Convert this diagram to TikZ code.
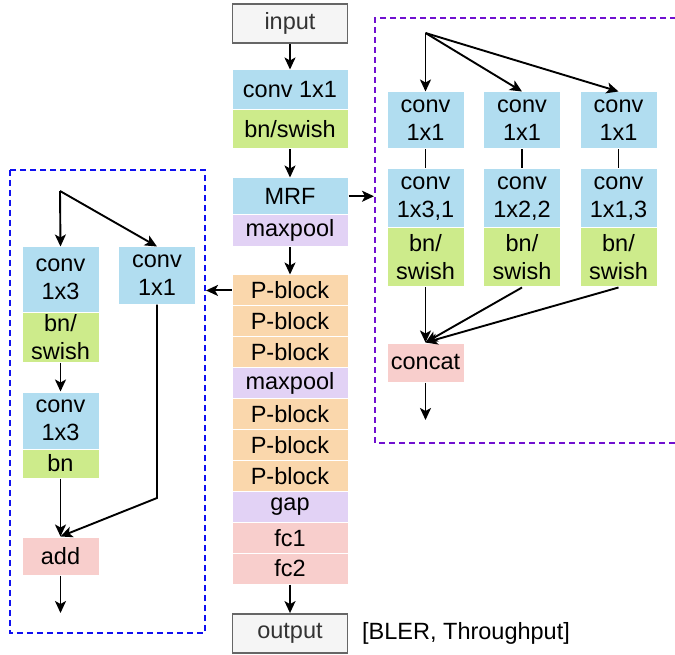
\documentclass[tikz,border=0pt]{standalone}
\usepackage{fontspec}
\setmainfont{Liberation Sans}
\usetikzlibrary{arrows.meta}
\definecolor{cblue}{HTML}{B1DDF0}
\definecolor{cgreen}{HTML}{CDEB8B}
\definecolor{corange}{HTML}{FAD7AC}
\definecolor{cpurple}{HTML}{E2D2F5}
\definecolor{cpink}{HTML}{F8CECC}
\definecolor{cgrayf}{HTML}{F5F5F5}
\definecolor{cgrayd}{HTML}{666666}
\definecolor{dblue}{HTML}{1010F0}
\definecolor{dpurple}{HTML}{7010D0}
\newcommand\myfs{\fontsize{23.5}{28}\selectfont}
\begin{document}
\begin{tikzpicture}[x=1pt,y=-1pt,
  blk/.style={rectangle, draw=white, line width=1pt, inner sep=0pt, align=center, font=\myfs, text=black},
  mainw/.style={minimum width=116pt},
  colw/.style={minimum width=77pt},
  io/.style={rectangle, draw=cgrayd, fill=cgrayf, line width=1.8pt, inner sep=0pt, minimum width=115pt, minimum height=39pt, font=\myfs, text={black!80}},
  arr/.style={line width=1.9pt, -{Stealth[length=12pt,width=11pt,inset=3pt]}},
  ln/.style={line width=1.9pt},
  dbox/.style={line width=1.8pt, dash pattern=on 6pt off 4pt}
]
\useasboundingbox (0,0) rectangle (675,655);

% main column
\node[io] (inp) at (290,23.5) {input};
\node[blk,mainw,fill=cblue,minimum height=40pt] (c1) at (290,90) {conv 1x1};
\node[blk,mainw,fill=cgreen,minimum height=39pt] (bs) at (290,129.5) {bn/swish};
\node[blk,mainw,fill=cblue,minimum height=36.5pt] (mrf) at (290,196.25) {MRF};
\node[blk,mainw,fill=cpurple,minimum height=32.5pt] (mp1) at (290,230.75) {maxpool};
\node[blk,mainw,fill=corange,minimum height=30.9pt] (p1) at (290,290.45) {P-block};
\node[blk,mainw,fill=corange,minimum height=30.9pt] (p2) at (290,321.35) {P-block};
\node[blk,mainw,fill=corange,minimum height=30.9pt] (p3) at (290,352.25) {P-block};
\node[blk,mainw,fill=cpurple,minimum height=30.9pt] (mp2) at (290,383.15) {maxpool};
\node[blk,mainw,fill=corange,minimum height=30.9pt] (p4) at (290,414.05) {P-block};
\node[blk,mainw,fill=corange,minimum height=30.9pt] (p5) at (290,444.95) {P-block};
\node[blk,mainw,fill=corange,minimum height=30.9pt] (p6) at (290,475.85) {P-block};
\node[blk,mainw,fill=cpurple,minimum height=30.9pt] (gap) at (290,506.75) {gap};
\node[blk,mainw,fill=cpink,minimum height=30.9pt] (fc1) at (290,537.65) {fc1};
\node[blk,mainw,fill=cpink,minimum height=30.9pt] (fc2) at (290,568.55) {fc2};
\node[io] (out) at (290,633.5) {output};
\node[anchor=west, inner sep=0pt, font=\myfs] (lab) at (362,633) {[BLER, Throughput]};

\draw[arr] (inp) -- (c1);
\draw[arr] (bs) -- (mrf);
\draw[arr] (mp1) -- (p1);
\draw[arr] (fc2) -- (out);

% left dashed box (P-block detail)
\draw[dbox, draw=dblue] (10,170) rectangle (205,633);
\coordinate (pin) at (206,290.45);
\draw[arr] (p1.west) -- (pin);
\coordinate (lb) at (60,191);
\node[blk,colw,fill=cblue,minimum height=65pt] (la) at (60.5,279.5) {conv\\1x3};
\node[blk,colw,fill=cgreen,minimum height=50pt] (lbs) at (60.5,337) {bn/\\swish};
\node[blk,colw,fill=cblue,minimum height=57pt] (lc) at (60.5,420.5) {conv\\1x3};
\node[blk,colw,fill=cgreen,minimum height=29pt] (lbn) at (60.5,463.5) {bn};
\node[blk,colw,fill=cpink,minimum height=38pt] (add) at (60.5,556) {add};
\node[blk,colw,fill=cblue,minimum height=57pt] (lr) at (157,275.5) {conv\\1x1};
\coordinate (lbend) at (157,498);
\coordinate (lend) at (60.5,613);
\draw[arr] (lb) -- (la.north);
\draw[arr] (lb) -- (lr.north);
\draw[arr] (lbs) -- (lc);
\draw[arr] (lbn) -- (add);
\draw[arr] (lr.south) -- (lbend) -- (add.north);
\draw[arr] (add) -- (lend);

% right dashed box (MRF detail)
\draw[dbox, draw=dpurple] (676,18) -- (375,18) -- (375,443) -- (676,443);
\coordinate (min) at (374,196.25);
\draw[arr] (mrf.east) -- (min);
\coordinate (rb) at (425.5,33);
\node[blk,colw,fill=cblue,minimum height=57pt] (a1) at (425.5,120.5) {conv\\1x1};
\node[blk,colw,fill=cblue,minimum height=57pt] (b1) at (522,120.5) {conv\\1x1};
\node[blk,colw,fill=cblue,minimum height=57pt] (d1) at (618.5,120.5) {conv\\1x1};
\node[blk,colw,fill=cblue,minimum height=59pt] (a2) at (425.5,198.5) {conv\\1x3,1};
\node[blk,colw,fill=cblue,minimum height=59pt] (b2) at (522,198.5) {conv\\1x2,2};
\node[blk,colw,fill=cblue,minimum height=59pt] (d2) at (618.5,198.5) {conv\\1x1,3};
\node[blk,colw,fill=cgreen,minimum height=59pt] (a3) at (425.5,257.5) {bn/\\swish};
\node[blk,colw,fill=cgreen,minimum height=59pt] (b3) at (522,257.5) {bn/\\swish};
\node[blk,colw,fill=cgreen,minimum height=59pt] (d3) at (618.5,257.5) {bn/\\swish};
\node[blk,colw,fill=cpink,minimum height=39pt] (cc) at (425.5,362.5) {concat};
\coordinate (rend) at (425.5,420);
\draw[arr] (rb) -- (a1.north);
\draw[arr] (rb) -- (b1.north);
\draw[arr] (rb) -- (d1.north);
\draw[ln] (a1) -- (a2);
\draw[ln] (b1) -- (b2);
\draw[ln] (d1) -- (d2);
\draw[arr] (a3.south) -- (cc.north);
\draw[arr] (b3.south) -- (cc.north);
\draw[arr] (d3.south) -- (cc.north);
\draw[arr] (cc) -- (rend);
\end{tikzpicture}
\end{document}
